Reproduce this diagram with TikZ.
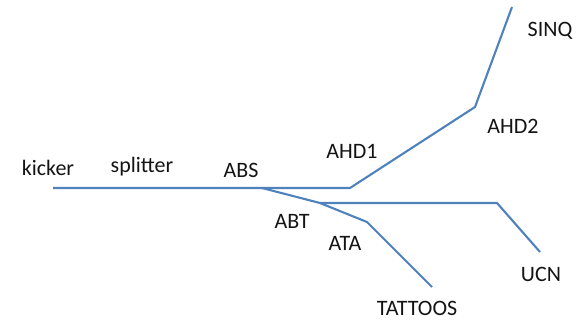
\documentclass[tikz,border=0pt]{standalone}
\usepackage{fontspec}
\setmainfont{Carlito}
\begin{document}
\begin{tikzpicture}[x=1pt,y=-1pt,
  beam/.style={draw={rgb,255:red,79;green,129;blue,189}, line width=2.1pt, line join=miter},
  lbl/.style={anchor=base, inner sep=0pt, font=\fontsize{22}{24}\selectfont, text={rgb,255:red,20;green,20;blue,20}}]
\useasboundingbox (0,0) rectangle (577,321);
% beam line points
\coordinate (kickerP) at (53,188);
\coordinate (absP) at (262,188);
\coordinate (ahdA) at (350,188);
\coordinate (ahdB) at (475,107);
\coordinate (sinqP) at (512,7);
\coordinate (ucnA) at (320,203);
\coordinate (ataP) at (367,222);
\coordinate (tatP) at (432,287);
\coordinate (ucnB) at (497,203);
\coordinate (ucnP) at (540,252);
% lines
\draw[beam] (kickerP) -- (ahdA) -- (ahdB) -- (sinqP);
\draw[beam] (absP) -- (ucnA) -- (ataP) -- (tatP);
\draw[beam] (ucnA) -- (ucnB) -- (ucnP);
% labels
\node[lbl] (kicker) at (48,175) {kicker};
\node[lbl] (splitter) at (142,172) {splitter};
\node[lbl] (abs) at (241,177) {ABS};
\node[lbl] (ahd1) at (352,158) {AHD1};
\node[lbl] (ahd2) at (513,133) {AHD2};
\node[lbl] (sinq) at (550,37) {SINQ};
\node[lbl] (abt) at (292,228) {ABT};
\node[lbl] (ata) at (345,250) {ATA};
\node[lbl] (ucn) at (541,281) {UCN};
\node[lbl] (tattoos) at (417,315) {TATTOOS};
\end{tikzpicture}
\end{document}
